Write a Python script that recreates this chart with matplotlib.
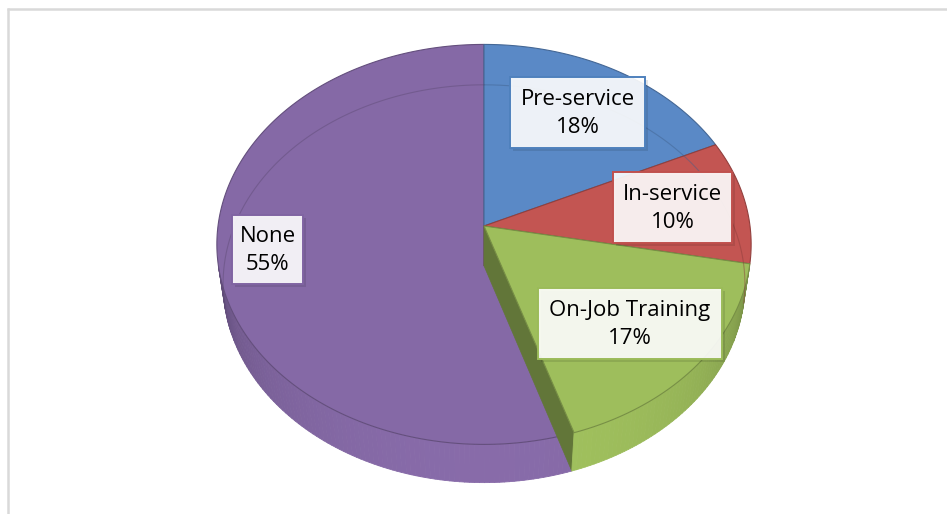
import numpy as np
import matplotlib
matplotlib.use('Agg')
import matplotlib.pyplot as plt
from matplotlib.patches import Polygon, Rectangle
from matplotlib.collections import PolyCollection
import matplotlib.colors as mcolors

categories = ['Pre-service', 'In-service', 'On-Job Training', 'None']
values = [18, 10, 17, 55]
pct_labels = ['18%', '10%', '17%', '55%']
colors = ['#5A89C6', '#C35552', '#9EBE5C', '#8569A6']
edge_colors = ['#4F81BD', '#C0504D', '#9BBB59', '#8064A2']

W, H = 947, 514
fig = plt.figure(figsize=(W / 100, H / 100), dpi=100)
ax = fig.add_axes([0, 0, 1, 1])
ax.set_xlim(0, W)
ax.set_ylim(H, 0)
ax.axis('off')

# perspective projection of a 3D cylinder
alpha = np.radians(48.2)
ca, sa = np.cos(alpha), np.sin(alpha)
D = 7.24
h = 0.23
K = 266
cx, cy = 484, 226


def proj(X, Y, Z):
    X = np.asarray(X, float)
    Y = np.asarray(Y, float)
    Z = np.asarray(Z, float)
    depth = D + Y * ca - Z * sa
    sx = X * D / depth
    sy = (Y * sa + Z * ca) * D / depth
    return cx + K * sx, cy - K * sy


def shade(c, f):
    r, g, b = mcolors.to_rgb(c)
    return (min(r * f, 1), min(g * f, 1), min(b * f, 1))


vals = np.array(values, float)
cum = np.concatenate([[0], np.cumsum(vals)]) / vals.sum()
bounds = np.radians(90 - 360 * cum)  # clockwise from 12 o'clock
thr = -1.0 / (D * ca)

order = [3, 0, 1, 2]
for rank, i in enumerate(order):
    zb = 2 + rank * 0.1
    t0, t1 = bounds[i], bounds[i + 1]
    n = max(int(abs(t1 - t0) / np.radians(1)) + 2, 4)
    th = np.linspace(t0, t1, n)
    col = colors[i]
    # radial walls facing camera
    for phi, sign in [(t0, 1), (t1, -1)]:
        ny = sign * np.cos(phi)
        if ny < -1e-6:
            xs, ys = proj([0, np.cos(phi), np.cos(phi), 0],
                          [0, np.sin(phi), np.sin(phi), 0],
                          [0, 0, -h, -h])
            ax.add_patch(Polygon(np.column_stack([xs, ys]), closed=True,
                                 facecolor=shade(col, 0.62),
                                 edgecolor=shade(col, 0.62), lw=0.5, zorder=zb))
    # outer side
    quads, fcs = [], []
    for k in range(n - 1):
        tm = 0.5 * (th[k] + th[k + 1])
        if np.sin(tm) < thr:
            a, b = th[k], th[k + 1]
            xs, ys = proj([np.cos(a), np.cos(b), np.cos(b), np.cos(a)],
                          [np.sin(a), np.sin(b), np.sin(b), np.sin(a)],
                          [0, 0, -h, -h])
            quads.append(np.column_stack([xs, ys]))
            t = np.clip((-np.sin(tm) + thr) / (1 + thr), 0, 1)
            fcs.append(shade(col, 0.72 + 0.30 * t ** 0.6))
    if quads:
        ax.add_collection(PolyCollection(quads, facecolors=fcs, edgecolors=fcs,
                                         lw=0.6, zorder=zb + 0.01))
    # top face
    xs, ys = proj(np.concatenate([[0], np.cos(th)]),
                  np.concatenate([[0], np.sin(th)]),
                  np.zeros(n + 1))
    ax.add_patch(Polygon(np.column_stack([xs, ys]), closed=True,
                         facecolor=col, edgecolor=shade(col, 0.75), lw=0.8,
                         zorder=zb + 0.02))

# faint see-through bottom rim on the back half
for i in range(len(values)):
    t0, t1 = bounds[i], bounds[i + 1]
    th = np.linspace(t0, t1, 200)
    th = th[np.sin(th) > thr]
    if len(th) < 2:
        continue
    xs, ys = proj(np.cos(th), np.sin(th), -h * np.ones_like(th))
    ax.plot(xs, ys, color=shade(colors[i], 0.7), lw=0.8, alpha=0.45, zorder=4)

# labels
boxes = [(510, 77, 645, 148), (613, 172, 732, 243),
         (538, 288, 722, 359), (232, 215, 303, 284)]
for i, (x0, y0, x1, y1) in enumerate(boxes):
    ax.add_patch(Rectangle((x0 + 3, y0 + 3), x1 - x0, y1 - y0,
                           facecolor='black', alpha=0.10, lw=0, zorder=5))
    ax.add_patch(Rectangle((x0, y0), x1 - x0, y1 - y0,
                           facecolor='white', alpha=0.9, edgecolor='none',
                           zorder=6))
    ax.add_patch(Rectangle((x0, y0), x1 - x0, y1 - y0,
                           facecolor='none', edgecolor=edge_colors[i], lw=1.4,
                           zorder=7))
    ax.text((x0 + x1) / 2, (y0 + y1) / 2 + 1,
            categories[i] + '\n' + pct_labels[i],
            ha='center', va='center', multialignment='center',
            fontsize=16, family='Open Sans', color='black',
            linespacing=1.45, zorder=8)

# chart frame
ax.plot([7, W], [8.5, 8.5], color='#D9D9D9', lw=1.8, zorder=1,
        solid_capstyle='butt')
ax.plot([8, 8], [8, H], color='#D9D9D9', lw=1.8, zorder=1,
        solid_capstyle='butt')

fig.savefig('out.png', dpi=100)
